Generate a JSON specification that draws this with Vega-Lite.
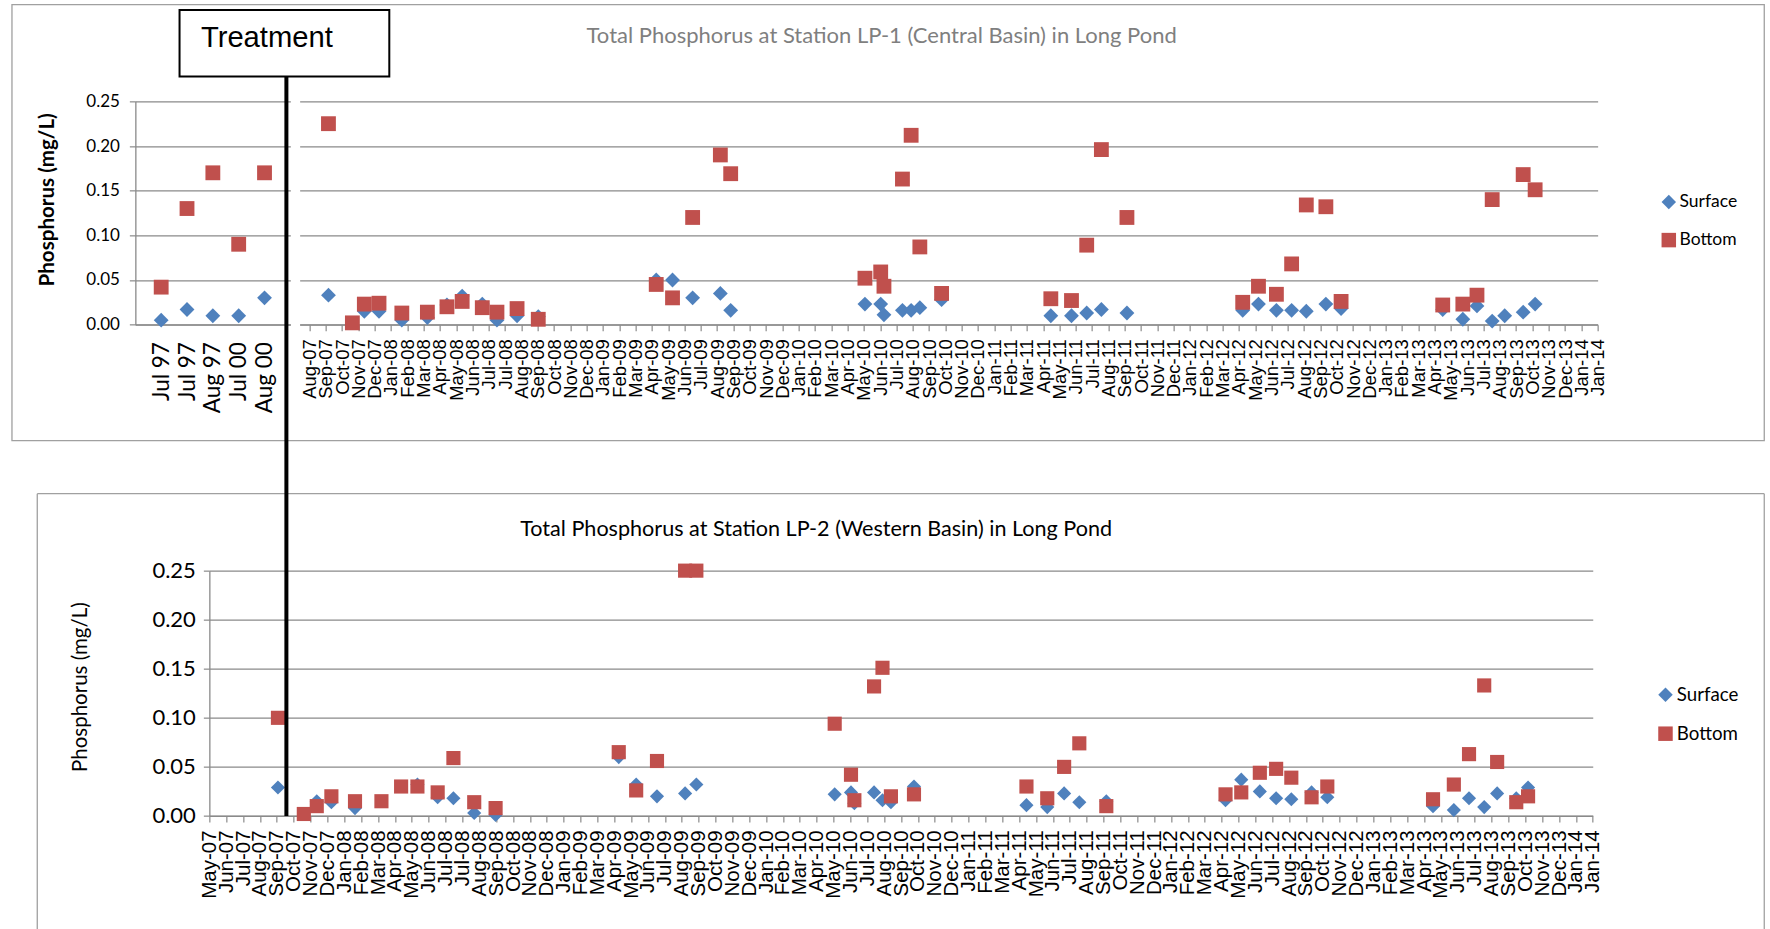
{
  "$schema": "https://vega.github.io/schema/vega-lite/v6.json",
  "background": "white",
  "padding": {"left": 10.35, "top": 3.35, "right": 0, "bottom": 0},
  "bounds": "flush",
  "spacing": 469.3,
  "config": {
    "view": {"stroke": null},
    "font": "Lato",
    "axis": {"gridColor": "#8a8a8a", "gridWidth": 1.3, "domainColor": "#8a8a8a", "domainWidth": 1.3, "tickColor": "#8a8a8a", "tickWidth": 1.2, "labelColor": "#000000", "titleColor": "#000000", "labelFlush": false},
    "legend": {"labelFont": "Lato", "labelColor": "#000000", "symbolSize": 210, "symbolStrokeWidth": 0, "rowPadding": 19, "labelOffset": 2, "padding": 0}
  },
  "datasets": {
    "lp1_hist": [
      {"sample": "Jul 97 (1)", "depth": "Surface", "tp": 0.005},
      {"sample": "Jul 97 (2)", "depth": "Surface", "tp": 0.017},
      {"sample": "Aug 97", "depth": "Surface", "tp": 0.010},
      {"sample": "Jul 00", "depth": "Surface", "tp": 0.010},
      {"sample": "Aug 00", "depth": "Surface", "tp": 0.030},
      {"sample": "Jul 97 (1)", "depth": "Bottom", "tp": 0.042},
      {"sample": "Jul 97 (2)", "depth": "Bottom", "tp": 0.130},
      {"sample": "Aug 97", "depth": "Bottom", "tp": 0.170},
      {"sample": "Jul 00", "depth": "Bottom", "tp": 0.090},
      {"sample": "Aug 00", "depth": "Bottom", "tp": 0.170}
    ],
    "lp1": [
      {"date": "2007-09-10", "depth": "Surface", "tp": 0.033},
      {"date": "2007-11-15", "depth": "Surface", "tp": 0.015},
      {"date": "2007-12-12", "depth": "Surface", "tp": 0.015},
      {"date": "2008-01-23", "depth": "Surface", "tp": 0.005},
      {"date": "2008-03-10", "depth": "Surface", "tp": 0.008},
      {"date": "2008-04-15", "depth": "Surface", "tp": 0.022},
      {"date": "2008-05-13", "depth": "Surface", "tp": 0.032},
      {"date": "2008-06-19", "depth": "Surface", "tp": 0.023},
      {"date": "2008-07-16", "depth": "Surface", "tp": 0.005},
      {"date": "2008-08-22", "depth": "Surface", "tp": 0.010},
      {"date": "2008-09-30", "depth": "Surface", "tp": 0.009},
      {"date": "2009-05-05", "depth": "Surface", "tp": 0.050},
      {"date": "2009-06-04", "depth": "Surface", "tp": 0.050},
      {"date": "2009-07-11", "depth": "Surface", "tp": 0.030},
      {"date": "2009-08-31", "depth": "Surface", "tp": 0.035},
      {"date": "2009-09-19", "depth": "Surface", "tp": 0.016},
      {"date": "2010-05-24", "depth": "Surface", "tp": 0.023},
      {"date": "2010-06-22", "depth": "Surface", "tp": 0.023},
      {"date": "2010-06-28", "depth": "Surface", "tp": 0.011},
      {"date": "2010-08-01", "depth": "Surface", "tp": 0.016},
      {"date": "2010-08-17", "depth": "Surface", "tp": 0.016},
      {"date": "2010-09-02", "depth": "Surface", "tp": 0.019},
      {"date": "2010-10-12", "depth": "Surface", "tp": 0.028},
      {"date": "2011-05-01", "depth": "Surface", "tp": 0.010},
      {"date": "2011-06-08", "depth": "Surface", "tp": 0.010},
      {"date": "2011-07-06", "depth": "Surface", "tp": 0.013},
      {"date": "2011-08-02", "depth": "Surface", "tp": 0.017},
      {"date": "2011-09-18", "depth": "Surface", "tp": 0.013},
      {"date": "2012-04-18", "depth": "Surface", "tp": 0.016},
      {"date": "2012-05-17", "depth": "Surface", "tp": 0.023},
      {"date": "2012-06-19", "depth": "Surface", "tp": 0.016},
      {"date": "2012-07-17", "depth": "Surface", "tp": 0.016},
      {"date": "2012-08-13", "depth": "Surface", "tp": 0.015},
      {"date": "2012-09-18", "depth": "Surface", "tp": 0.023},
      {"date": "2012-10-16", "depth": "Surface", "tp": 0.018},
      {"date": "2013-04-21", "depth": "Surface", "tp": 0.017},
      {"date": "2013-05-28", "depth": "Surface", "tp": 0.006},
      {"date": "2013-06-23", "depth": "Surface", "tp": 0.021},
      {"date": "2013-07-21", "depth": "Surface", "tp": 0.004},
      {"date": "2013-08-13", "depth": "Surface", "tp": 0.010},
      {"date": "2013-09-16", "depth": "Surface", "tp": 0.014},
      {"date": "2013-10-08", "depth": "Surface", "tp": 0.023},
      {"date": "2007-09-10", "depth": "Bottom", "tp": 0.225},
      {"date": "2007-10-24", "depth": "Bottom", "tp": 0.002},
      {"date": "2007-11-15", "depth": "Bottom", "tp": 0.023},
      {"date": "2007-12-12", "depth": "Bottom", "tp": 0.024},
      {"date": "2008-01-23", "depth": "Bottom", "tp": 0.013},
      {"date": "2008-03-10", "depth": "Bottom", "tp": 0.014},
      {"date": "2008-04-15", "depth": "Bottom", "tp": 0.020},
      {"date": "2008-05-13", "depth": "Bottom", "tp": 0.026},
      {"date": "2008-06-19", "depth": "Bottom", "tp": 0.019},
      {"date": "2008-07-16", "depth": "Bottom", "tp": 0.014},
      {"date": "2008-08-22", "depth": "Bottom", "tp": 0.018},
      {"date": "2008-09-30", "depth": "Bottom", "tp": 0.006},
      {"date": "2009-05-05", "depth": "Bottom", "tp": 0.045},
      {"date": "2009-06-04", "depth": "Bottom", "tp": 0.030},
      {"date": "2009-07-11", "depth": "Bottom", "tp": 0.120},
      {"date": "2009-08-31", "depth": "Bottom", "tp": 0.190},
      {"date": "2009-09-19", "depth": "Bottom", "tp": 0.169},
      {"date": "2010-05-24", "depth": "Bottom", "tp": 0.052},
      {"date": "2010-06-22", "depth": "Bottom", "tp": 0.059},
      {"date": "2010-06-28", "depth": "Bottom", "tp": 0.043},
      {"date": "2010-08-01", "depth": "Bottom", "tp": 0.163},
      {"date": "2010-08-17", "depth": "Bottom", "tp": 0.212},
      {"date": "2010-09-02", "depth": "Bottom", "tp": 0.087},
      {"date": "2010-10-12", "depth": "Bottom", "tp": 0.035},
      {"date": "2011-05-01", "depth": "Bottom", "tp": 0.029},
      {"date": "2011-06-08", "depth": "Bottom", "tp": 0.027},
      {"date": "2011-07-06", "depth": "Bottom", "tp": 0.089},
      {"date": "2011-08-02", "depth": "Bottom", "tp": 0.196},
      {"date": "2011-09-18", "depth": "Bottom", "tp": 0.120},
      {"date": "2012-04-18", "depth": "Bottom", "tp": 0.025},
      {"date": "2012-05-17", "depth": "Bottom", "tp": 0.043},
      {"date": "2012-06-19", "depth": "Bottom", "tp": 0.034},
      {"date": "2012-07-17", "depth": "Bottom", "tp": 0.068},
      {"date": "2012-08-13", "depth": "Bottom", "tp": 0.134},
      {"date": "2012-09-18", "depth": "Bottom", "tp": 0.132},
      {"date": "2012-10-16", "depth": "Bottom", "tp": 0.026},
      {"date": "2013-04-21", "depth": "Bottom", "tp": 0.022},
      {"date": "2013-05-28", "depth": "Bottom", "tp": 0.023},
      {"date": "2013-06-23", "depth": "Bottom", "tp": 0.033},
      {"date": "2013-07-21", "depth": "Bottom", "tp": 0.140},
      {"date": "2013-09-16", "depth": "Bottom", "tp": 0.168},
      {"date": "2013-10-08", "depth": "Bottom", "tp": 0.151}
    ],
    "lp2": [
      {"date": "2007-09-07", "depth": "Surface", "tp": 0.029},
      {"date": "2007-11-15", "depth": "Surface", "tp": 0.015},
      {"date": "2007-12-11", "depth": "Surface", "tp": 0.014},
      {"date": "2008-01-22", "depth": "Surface", "tp": 0.008},
      {"date": "2008-05-12", "depth": "Surface", "tp": 0.032},
      {"date": "2008-06-17", "depth": "Surface", "tp": 0.019},
      {"date": "2008-07-15", "depth": "Surface", "tp": 0.018},
      {"date": "2008-08-21", "depth": "Surface", "tp": 0.003},
      {"date": "2008-09-28", "depth": "Surface", "tp": 0.001},
      {"date": "2009-05-05", "depth": "Surface", "tp": 0.060},
      {"date": "2009-06-05", "depth": "Surface", "tp": 0.032},
      {"date": "2009-07-12", "depth": "Surface", "tp": 0.020},
      {"date": "2009-08-31", "depth": "Surface", "tp": 0.023},
      {"date": "2009-09-20", "depth": "Surface", "tp": 0.032},
      {"date": "2010-05-24", "depth": "Surface", "tp": 0.022},
      {"date": "2010-06-22", "depth": "Surface", "tp": 0.024},
      {"date": "2010-06-28", "depth": "Surface", "tp": 0.013},
      {"date": "2010-08-02", "depth": "Surface", "tp": 0.024},
      {"date": "2010-08-17", "depth": "Surface", "tp": 0.016},
      {"date": "2010-09-01", "depth": "Surface", "tp": 0.014},
      {"date": "2010-10-12", "depth": "Surface", "tp": 0.030},
      {"date": "2011-04-30", "depth": "Surface", "tp": 0.011},
      {"date": "2011-06-06", "depth": "Surface", "tp": 0.009},
      {"date": "2011-07-06", "depth": "Surface", "tp": 0.023},
      {"date": "2011-08-02", "depth": "Surface", "tp": 0.014},
      {"date": "2011-09-19", "depth": "Surface", "tp": 0.015},
      {"date": "2012-04-18", "depth": "Surface", "tp": 0.016},
      {"date": "2012-05-16", "depth": "Surface", "tp": 0.037},
      {"date": "2012-06-18", "depth": "Surface", "tp": 0.025},
      {"date": "2012-07-17", "depth": "Surface", "tp": 0.018},
      {"date": "2012-08-13", "depth": "Surface", "tp": 0.017},
      {"date": "2012-09-18", "depth": "Surface", "tp": 0.024},
      {"date": "2012-10-16", "depth": "Surface", "tp": 0.019},
      {"date": "2013-04-22", "depth": "Surface", "tp": 0.010},
      {"date": "2013-05-29", "depth": "Surface", "tp": 0.006},
      {"date": "2013-06-25", "depth": "Surface", "tp": 0.018},
      {"date": "2013-07-22", "depth": "Surface", "tp": 0.009},
      {"date": "2013-08-14", "depth": "Surface", "tp": 0.023},
      {"date": "2013-09-17", "depth": "Surface", "tp": 0.018},
      {"date": "2013-10-08", "depth": "Surface", "tp": 0.029},
      {"date": "2007-09-07", "depth": "Bottom", "tp": 0.100},
      {"date": "2007-10-23", "depth": "Bottom", "tp": 0.002},
      {"date": "2007-11-15", "depth": "Bottom", "tp": 0.010},
      {"date": "2007-12-11", "depth": "Bottom", "tp": 0.020},
      {"date": "2008-01-22", "depth": "Bottom", "tp": 0.015},
      {"date": "2008-03-09", "depth": "Bottom", "tp": 0.015},
      {"date": "2008-04-13", "depth": "Bottom", "tp": 0.030},
      {"date": "2008-05-12", "depth": "Bottom", "tp": 0.030},
      {"date": "2008-06-17", "depth": "Bottom", "tp": 0.024},
      {"date": "2008-07-15", "depth": "Bottom", "tp": 0.059},
      {"date": "2008-08-21", "depth": "Bottom", "tp": 0.014},
      {"date": "2008-09-28", "depth": "Bottom", "tp": 0.008},
      {"date": "2009-05-05", "depth": "Bottom", "tp": 0.065},
      {"date": "2009-06-05", "depth": "Bottom", "tp": 0.026},
      {"date": "2009-07-12", "depth": "Bottom", "tp": 0.056},
      {"date": "2009-08-31", "depth": "Bottom", "tp": 0.250},
      {"date": "2009-09-20", "depth": "Bottom", "tp": 0.250},
      {"date": "2010-05-24", "depth": "Bottom", "tp": 0.094},
      {"date": "2010-06-22", "depth": "Bottom", "tp": 0.042},
      {"date": "2010-06-28", "depth": "Bottom", "tp": 0.016},
      {"date": "2010-08-02", "depth": "Bottom", "tp": 0.132},
      {"date": "2010-08-17", "depth": "Bottom", "tp": 0.151},
      {"date": "2010-09-01", "depth": "Bottom", "tp": 0.020},
      {"date": "2010-10-12", "depth": "Bottom", "tp": 0.022},
      {"date": "2011-04-30", "depth": "Bottom", "tp": 0.030},
      {"date": "2011-06-06", "depth": "Bottom", "tp": 0.018},
      {"date": "2011-07-06", "depth": "Bottom", "tp": 0.050},
      {"date": "2011-08-02", "depth": "Bottom", "tp": 0.074},
      {"date": "2011-09-19", "depth": "Bottom", "tp": 0.010},
      {"date": "2012-04-18", "depth": "Bottom", "tp": 0.022},
      {"date": "2012-05-16", "depth": "Bottom", "tp": 0.024},
      {"date": "2012-06-18", "depth": "Bottom", "tp": 0.044},
      {"date": "2012-07-17", "depth": "Bottom", "tp": 0.048},
      {"date": "2012-08-13", "depth": "Bottom", "tp": 0.039},
      {"date": "2012-09-18", "depth": "Bottom", "tp": 0.019},
      {"date": "2012-10-16", "depth": "Bottom", "tp": 0.030},
      {"date": "2013-04-22", "depth": "Bottom", "tp": 0.017},
      {"date": "2013-05-29", "depth": "Bottom", "tp": 0.032},
      {"date": "2013-06-25", "depth": "Bottom", "tp": 0.063},
      {"date": "2013-07-22", "depth": "Bottom", "tp": 0.133},
      {"date": "2013-08-14", "depth": "Bottom", "tp": 0.055},
      {"date": "2013-09-17", "depth": "Bottom", "tp": 0.014},
      {"date": "2013-10-08", "depth": "Bottom", "tp": 0.020}
    ]
  },
  "resolve": {"scale": {"color": "independent", "shape": "independent"}, "legend": {"color": "independent", "shape": "independent"}},
  "vconcat": [
    {
      "bounds": "flush",
      "spacing": 9.3,
      "resolve": {"scale": {"color": "independent", "shape": "independent"}, "legend": {"color": "independent", "shape": "independent"}},
      "hconcat": [
        {
          "width": 155,
          "height": 223.3,
          "data": {"name": "lp1_hist"},
          "mark": {"type": "point", "filled": true, "opacity": 1, "size": 220, "strokeWidth": 0},
          "encoding": {
            "x": {"field": "sample", "type": "ordinal", "sort": null, "scale": {"type": "point", "padding": 1.1},
              "axis": {"title": null, "labelAngle": 270, "labelExpr": "split(datum.value, ' (')[0]", "ticks": false, "domain": true, "grid": false, "labelPadding": 17, "labelFont": "Lato", "labelFontSize": 22.5}},
            "y": {"field": "tp", "type": "quantitative", "scale": {"domain": [0, 0.25]},
              "axis": {"values": [0, 0.05, 0.1, 0.15, 0.2, 0.25], "format": ".2f", "title": "Phosphorus (mg/L)", "titleFont": "Lato", "titleFontWeight": "bold", "titleFontSize": 20.6, "titleAngle": 270, "titleX": -87.6, "titleY": 98, "titleAlign": "center", "titleBaseline": "middle", "tickSize": 6, "labelPadding": 10, "labelFont": "Lato", "labelFontSize": 17, "grid": true}},
            "color": {"field": "depth", "type": "nominal", "scale": {"domain": ["Surface", "Bottom"], "range": ["#4F81BD", "#C0504D"]}, "legend": null},
            "shape": {"field": "depth", "type": "nominal", "scale": {"domain": ["Surface", "Bottom"], "range": ["diamond", "square"]}, "legend": null}
          }
        },
        {
          "width": 1298,
          "height": 223.3,
          "title": {"text": "Total Phosphorus at Station LP-1 (Central Basin) in Long Pond", "frame": "group", "font": "Lato", "fontSize": 22, "fontWeight": "normal", "color": "#7f7f7f", "anchor": "middle", "dx": -67, "baseline": "alphabetic", "offset": 36.5},
          "data": {"name": "lp1"},
          "mark": {"type": "point", "filled": true, "opacity": 1, "size": 220, "strokeWidth": 0},
          "encoding": {
            "x": {"field": "date", "type": "temporal",
              "scale": {"type": "utc", "domain": [{"year": 2007, "month": 7, "date": 19, "utc": true}, {"year": 2014, "month": 1, "date": 31, "utc": true}]},
              "axis": {"title": null, "format": "%b-%y", "labelAngle": 270, "labelOverlap": false, "labelFlush": false, "labelFont": "Liberation Sans", "labelFontSize": 18.5, "tickSize": 6, "labelPadding": 8, "grid": false, "domain": true,
                "values": [
                  {"year": 2007, "month": 8, "date": 6, "utc": true}, {"year": 2007, "month": 9, "date": 5, "utc": true}, {"year": 2007, "month": 10, "date": 5, "utc": true}, {"year": 2007, "month": 11, "date": 4, "utc": true}, {"year": 2007, "month": 12, "date": 4, "utc": true},
                  {"year": 2008, "month": 1, "date": 3, "utc": true}, {"year": 2008, "month": 2, "date": 2, "utc": true}, {"year": 2008, "month": 3, "date": 3, "utc": true}, {"year": 2008, "month": 4, "date": 2, "utc": true}, {"year": 2008, "month": 5, "date": 2, "utc": true}, {"year": 2008, "month": 6, "date": 1, "utc": true}, {"year": 2008, "month": 7, "date": 1, "utc": true}, {"year": 2008, "month": 7, "date": 31, "utc": true}, {"year": 2008, "month": 8, "date": 30, "utc": true}, {"year": 2008, "month": 9, "date": 29, "utc": true}, {"year": 2008, "month": 10, "date": 29, "utc": true}, {"year": 2008, "month": 11, "date": 28, "utc": true}, {"year": 2008, "month": 12, "date": 28, "utc": true},
                  {"year": 2009, "month": 1, "date": 27, "utc": true}, {"year": 2009, "month": 2, "date": 26, "utc": true}, {"year": 2009, "month": 3, "date": 28, "utc": true}, {"year": 2009, "month": 4, "date": 27, "utc": true}, {"year": 2009, "month": 5, "date": 27, "utc": true}, {"year": 2009, "month": 6, "date": 26, "utc": true}, {"year": 2009, "month": 7, "date": 26, "utc": true}, {"year": 2009, "month": 8, "date": 25, "utc": true}, {"year": 2009, "month": 9, "date": 24, "utc": true}, {"year": 2009, "month": 10, "date": 24, "utc": true}, {"year": 2009, "month": 11, "date": 23, "utc": true}, {"year": 2009, "month": 12, "date": 23, "utc": true},
                  {"year": 2010, "month": 1, "date": 22, "utc": true}, {"year": 2010, "month": 2, "date": 21, "utc": true}, {"year": 2010, "month": 3, "date": 23, "utc": true}, {"year": 2010, "month": 4, "date": 22, "utc": true}, {"year": 2010, "month": 5, "date": 22, "utc": true}, {"year": 2010, "month": 6, "date": 21, "utc": true}, {"year": 2010, "month": 7, "date": 21, "utc": true}, {"year": 2010, "month": 8, "date": 20, "utc": true}, {"year": 2010, "month": 9, "date": 19, "utc": true}, {"year": 2010, "month": 10, "date": 19, "utc": true}, {"year": 2010, "month": 11, "date": 18, "utc": true}, {"year": 2010, "month": 12, "date": 18, "utc": true},
                  {"year": 2011, "month": 1, "date": 17, "utc": true}, {"year": 2011, "month": 2, "date": 16, "utc": true}, {"year": 2011, "month": 3, "date": 18, "utc": true}, {"year": 2011, "month": 4, "date": 17, "utc": true}, {"year": 2011, "month": 5, "date": 17, "utc": true}, {"year": 2011, "month": 6, "date": 16, "utc": true}, {"year": 2011, "month": 7, "date": 16, "utc": true}, {"year": 2011, "month": 8, "date": 15, "utc": true}, {"year": 2011, "month": 9, "date": 14, "utc": true}, {"year": 2011, "month": 10, "date": 14, "utc": true}, {"year": 2011, "month": 11, "date": 13, "utc": true}, {"year": 2011, "month": 12, "date": 13, "utc": true},
                  {"year": 2012, "month": 1, "date": 12, "utc": true}, {"year": 2012, "month": 2, "date": 11, "utc": true}, {"year": 2012, "month": 3, "date": 12, "utc": true}, {"year": 2012, "month": 4, "date": 11, "utc": true}, {"year": 2012, "month": 5, "date": 11, "utc": true}, {"year": 2012, "month": 6, "date": 10, "utc": true}, {"year": 2012, "month": 7, "date": 10, "utc": true}, {"year": 2012, "month": 8, "date": 9, "utc": true}, {"year": 2012, "month": 9, "date": 8, "utc": true}, {"year": 2012, "month": 10, "date": 8, "utc": true}, {"year": 2012, "month": 11, "date": 7, "utc": true}, {"year": 2012, "month": 12, "date": 7, "utc": true},
                  {"year": 2013, "month": 1, "date": 6, "utc": true}, {"year": 2013, "month": 2, "date": 5, "utc": true}, {"year": 2013, "month": 3, "date": 7, "utc": true}, {"year": 2013, "month": 4, "date": 6, "utc": true}, {"year": 2013, "month": 5, "date": 6, "utc": true}, {"year": 2013, "month": 6, "date": 5, "utc": true}, {"year": 2013, "month": 7, "date": 5, "utc": true}, {"year": 2013, "month": 8, "date": 4, "utc": true}, {"year": 2013, "month": 9, "date": 3, "utc": true}, {"year": 2013, "month": 10, "date": 3, "utc": true}, {"year": 2013, "month": 11, "date": 2, "utc": true}, {"year": 2013, "month": 12, "date": 2, "utc": true},
                  {"year": 2014, "month": 1, "date": 1, "utc": true}, {"year": 2014, "month": 1, "date": 31, "utc": true}
                ]}},
            "y": {"field": "tp", "type": "quantitative", "scale": {"domain": [0, 0.25]},
              "axis": {"values": [0, 0.05, 0.1, 0.15, 0.2, 0.25], "labels": false, "ticks": false, "domain": false, "title": null, "grid": true}},
            "color": {"field": "depth", "type": "nominal", "scale": {"domain": ["Surface", "Bottom"], "range": ["#4F81BD", "#C0504D"]}, "legend": {"title": null, "orient": "none", "legendX": 1360.4, "legendY": 92, "labelFontSize": 17.5}},
            "shape": {"field": "depth", "type": "nominal", "scale": {"domain": ["Surface", "Bottom"], "range": ["diamond", "square"]}, "legend": {"title": null, "orient": "none", "legendX": 1360.4, "legendY": 92, "labelFontSize": 17.5}}
          }
        }
      ]
    },
    {
      "bounds": "flush",
      "spacing": 0,
      "resolve": {"scale": {"color": "independent", "shape": "independent"}, "legend": {"color": "independent", "shape": "independent"}},
      "hconcat": [
        {
          "width": 73.3,
          "height": 245.3,
          "data": {"values": []},
          "mark": {"type": "point"}
        },
        {
          "width": 1383.4,
          "height": 245.3,
          "resolve": {"scale": {"x": "independent", "y": "independent"}, "axis": {"x": "independent", "y": "independent"}},
          "layer": [
            {
              "data": {"name": "lp2"},
              "mark": {"type": "point", "filled": true, "opacity": 1, "size": 200, "strokeWidth": 0},
              "encoding": {
                "x": {"field": "date", "type": "temporal",
                  "scale": {"type": "utc", "domain": [{"year": 2007, "month": 5, "date": 8, "utc": true}, {"year": 2014, "month": 1, "date": 31, "utc": true}]},
                  "axis": {"title": null, "orient": "bottom", "format": "%b-%y", "labelAngle": 270, "labelOverlap": false, "labelFlush": false, "labelFont": "Liberation Sans", "labelFontSize": 20.5, "tickSize": 6, "labelPadding": 8, "grid": false, "domain": true,
                    "values": [
                      {"year": 2007, "month": 5, "date": 8, "utc": true}, {"year": 2007, "month": 6, "date": 7, "utc": true}, {"year": 2007, "month": 7, "date": 7, "utc": true},
                      {"year": 2007, "month": 8, "date": 6, "utc": true}, {"year": 2007, "month": 9, "date": 5, "utc": true}, {"year": 2007, "month": 10, "date": 5, "utc": true}, {"year": 2007, "month": 11, "date": 4, "utc": true}, {"year": 2007, "month": 12, "date": 4, "utc": true},
                      {"year": 2008, "month": 1, "date": 3, "utc": true}, {"year": 2008, "month": 2, "date": 2, "utc": true}, {"year": 2008, "month": 3, "date": 3, "utc": true}, {"year": 2008, "month": 4, "date": 2, "utc": true}, {"year": 2008, "month": 5, "date": 2, "utc": true}, {"year": 2008, "month": 6, "date": 1, "utc": true}, {"year": 2008, "month": 7, "date": 1, "utc": true}, {"year": 2008, "month": 7, "date": 31, "utc": true}, {"year": 2008, "month": 8, "date": 30, "utc": true}, {"year": 2008, "month": 9, "date": 29, "utc": true}, {"year": 2008, "month": 10, "date": 29, "utc": true}, {"year": 2008, "month": 11, "date": 28, "utc": true}, {"year": 2008, "month": 12, "date": 28, "utc": true},
                      {"year": 2009, "month": 1, "date": 27, "utc": true}, {"year": 2009, "month": 2, "date": 26, "utc": true}, {"year": 2009, "month": 3, "date": 28, "utc": true}, {"year": 2009, "month": 4, "date": 27, "utc": true}, {"year": 2009, "month": 5, "date": 27, "utc": true}, {"year": 2009, "month": 6, "date": 26, "utc": true}, {"year": 2009, "month": 7, "date": 26, "utc": true}, {"year": 2009, "month": 8, "date": 25, "utc": true}, {"year": 2009, "month": 9, "date": 24, "utc": true}, {"year": 2009, "month": 10, "date": 24, "utc": true}, {"year": 2009, "month": 11, "date": 23, "utc": true}, {"year": 2009, "month": 12, "date": 23, "utc": true},
                      {"year": 2010, "month": 1, "date": 22, "utc": true}, {"year": 2010, "month": 2, "date": 21, "utc": true}, {"year": 2010, "month": 3, "date": 23, "utc": true}, {"year": 2010, "month": 4, "date": 22, "utc": true}, {"year": 2010, "month": 5, "date": 22, "utc": true}, {"year": 2010, "month": 6, "date": 21, "utc": true}, {"year": 2010, "month": 7, "date": 21, "utc": true}, {"year": 2010, "month": 8, "date": 20, "utc": true}, {"year": 2010, "month": 9, "date": 19, "utc": true}, {"year": 2010, "month": 10, "date": 19, "utc": true}, {"year": 2010, "month": 11, "date": 18, "utc": true}, {"year": 2010, "month": 12, "date": 18, "utc": true},
                      {"year": 2011, "month": 1, "date": 17, "utc": true}, {"year": 2011, "month": 2, "date": 16, "utc": true}, {"year": 2011, "month": 3, "date": 18, "utc": true}, {"year": 2011, "month": 4, "date": 17, "utc": true}, {"year": 2011, "month": 5, "date": 17, "utc": true}, {"year": 2011, "month": 6, "date": 16, "utc": true}, {"year": 2011, "month": 7, "date": 16, "utc": true}, {"year": 2011, "month": 8, "date": 15, "utc": true}, {"year": 2011, "month": 9, "date": 14, "utc": true}, {"year": 2011, "month": 10, "date": 14, "utc": true}, {"year": 2011, "month": 11, "date": 13, "utc": true}, {"year": 2011, "month": 12, "date": 13, "utc": true},
                      {"year": 2012, "month": 1, "date": 12, "utc": true}, {"year": 2012, "month": 2, "date": 11, "utc": true}, {"year": 2012, "month": 3, "date": 12, "utc": true}, {"year": 2012, "month": 4, "date": 11, "utc": true}, {"year": 2012, "month": 5, "date": 11, "utc": true}, {"year": 2012, "month": 6, "date": 10, "utc": true}, {"year": 2012, "month": 7, "date": 10, "utc": true}, {"year": 2012, "month": 8, "date": 9, "utc": true}, {"year": 2012, "month": 9, "date": 8, "utc": true}, {"year": 2012, "month": 10, "date": 8, "utc": true}, {"year": 2012, "month": 11, "date": 7, "utc": true}, {"year": 2012, "month": 12, "date": 7, "utc": true},
                      {"year": 2013, "month": 1, "date": 6, "utc": true}, {"year": 2013, "month": 2, "date": 5, "utc": true}, {"year": 2013, "month": 3, "date": 7, "utc": true}, {"year": 2013, "month": 4, "date": 6, "utc": true}, {"year": 2013, "month": 5, "date": 6, "utc": true}, {"year": 2013, "month": 6, "date": 5, "utc": true}, {"year": 2013, "month": 7, "date": 5, "utc": true}, {"year": 2013, "month": 8, "date": 4, "utc": true}, {"year": 2013, "month": 9, "date": 3, "utc": true}, {"year": 2013, "month": 10, "date": 3, "utc": true}, {"year": 2013, "month": 11, "date": 2, "utc": true}, {"year": 2013, "month": 12, "date": 2, "utc": true},
                      {"year": 2014, "month": 1, "date": 1, "utc": true}, {"year": 2014, "month": 1, "date": 31, "utc": true}
                    ]}},
                "y": {"field": "tp", "type": "quantitative", "scale": {"domain": [0, 0.25]},
                  "axis": {"orient": "left", "values": [0, 0.05, 0.1, 0.15, 0.2, 0.25], "format": ".2f", "title": "Phosphorus (mg/L)", "titleFont": "Lato", "titleFontWeight": "normal", "titleFontSize": 20.5, "titleAngle": 270, "titleX": -129.3, "titleY": 116, "titleAlign": "center", "titleBaseline": "middle", "tickSize": 6, "labelPadding": 8, "labelFont": "Lato", "labelFontSize": 22, "grid": true}},
                "color": {"field": "depth", "type": "nominal", "scale": {"domain": ["Surface", "Bottom"], "range": ["#4F81BD", "#C0504D"]}, "legend": {"title": null, "orient": "none", "legendX": 1446.8, "legendY": 114.7, "labelFontSize": 18.7}},
                "shape": {"field": "depth", "type": "nominal", "scale": {"domain": ["Surface", "Bottom"], "range": ["diamond", "square"]}, "legend": {"title": null, "orient": "none", "legendX": 1446.8, "legendY": 114.7, "labelFontSize": 18.7}}
              }
            },
            {
              "data": {"values": [{}]},
              "mark": {"type": "rect", "fill": null, "fillOpacity": 0, "stroke": "#a0a0a0", "strokeWidth": 1.3, "clip": false},
              "encoding": {
                "x": {"datum": {"year": 2006, "month": 5, "date": 22, "utc": true}, "type": "temporal", "axis": null, "scale": {"type": "utc", "domain": [{"year": 2007, "month": 5, "date": 8, "utc": true}, {"year": 2014, "month": 1, "date": 31, "utc": true}]}},
                "x2": {"datum": {"year": 2014, "month": 12, "date": 2, "utc": true}},
                "y": {"datum": 0.82685, "type": "quantitative", "axis": null, "scale": {"domain": [0, 0.25]}},
                "y2": {"datum": 0.38249}
              }
            },
            {
              "data": {"values": [{}]},
              "mark": {"type": "rule", "stroke": "#a0a0a0", "strokeWidth": 1.3, "clip": false},
              "encoding": {
                "x": {"datum": {"year": 2006, "month": 7, "date": 6, "utc": true}, "type": "temporal", "axis": null, "scale": {"type": "utc", "domain": [{"year": 2007, "month": 5, "date": 8, "utc": true}, {"year": 2014, "month": 1, "date": 31, "utc": true}]}},
                "y": {"datum": 0.32848, "type": "quantitative", "axis": null, "scale": {"domain": [0, 0.25]}},
                "y2": {"datum": -0.12}
              }
            },
            {
              "data": {"values": [{}]},
              "mark": {"type": "rule", "stroke": "#a0a0a0", "strokeWidth": 1.3, "clip": false},
              "encoding": {
                "x": {"datum": {"year": 2014, "month": 12, "date": 2, "utc": true}, "type": "temporal", "axis": null, "scale": {"type": "utc", "domain": [{"year": 2007, "month": 5, "date": 8, "utc": true}, {"year": 2014, "month": 1, "date": 31, "utc": true}]}},
                "y": {"datum": 0.32848, "type": "quantitative", "axis": null, "scale": {"domain": [0, 0.25]}},
                "y2": {"datum": -0.12}
              }
            },
            {
              "data": {"values": [{}]},
              "mark": {"type": "rule", "stroke": "#a0a0a0", "strokeWidth": 1.3, "clip": false},
              "encoding": {
                "x": {"datum": {"year": 2006, "month": 7, "date": 6, "utc": true}, "type": "temporal", "axis": null, "scale": {"type": "utc", "domain": [{"year": 2007, "month": 5, "date": 8, "utc": true}, {"year": 2014, "month": 1, "date": 31, "utc": true}]}},
                "x2": {"datum": {"year": 2014, "month": 12, "date": 2, "utc": true}},
                "y": {"datum": 0.32848, "type": "quantitative", "axis": null, "scale": {"domain": [0, 0.25]}}
              }
            },
            {
              "data": {"values": [{}]},
              "mark": {"type": "rule", "stroke": "#000000", "strokeWidth": 4, "clip": false},
              "encoding": {
                "x": {"datum": {"year": 2007, "month": 9, "date": 22, "utc": true}, "type": "temporal", "axis": null, "scale": {"type": "utc", "domain": [{"year": 2007, "month": 5, "date": 8, "utc": true}, {"year": 2014, "month": 1, "date": 31, "utc": true}]}},
                "y": {"datum": 0, "type": "quantitative", "axis": null, "scale": {"domain": [0, 0.25]}},
                "y2": {"datum": 0.7535}
              }
            },
            {
              "data": {"values": [{}]},
              "mark": {"type": "rect", "fill": "#ffffff", "stroke": "#000000", "strokeWidth": 2, "clip": false},
              "encoding": {
                "x": {"datum": {"year": 2007, "month": 3, "date": 16, "utc": true}, "type": "temporal", "axis": null, "scale": {"type": "utc", "domain": [{"year": 2007, "month": 5, "date": 8, "utc": true}, {"year": 2014, "month": 1, "date": 31, "utc": true}]}},
                "x2": {"datum": {"year": 2008, "month": 3, "date": 23, "utc": true}},
                "y": {"datum": 0.8214, "type": "quantitative", "axis": null, "scale": {"domain": [0, 0.25]}},
                "y2": {"datum": 0.7535}
              }
            },
            {
              "data": {"values": [{}]},
              "mark": {"type": "text", "text": "Treatment", "font": "Liberation Sans", "fontSize": 29.2, "align": "left", "baseline": "alphabetic", "color": "#000000", "clip": false},
              "encoding": {
                "x": {"datum": {"year": 2007, "month": 4, "date": 23, "utc": true}, "type": "temporal", "axis": null, "scale": {"type": "utc", "domain": [{"year": 2007, "month": 5, "date": 8, "utc": true}, {"year": 2014, "month": 1, "date": 31, "utc": true}]}},
                "y": {"datum": 0.7833, "type": "quantitative", "axis": null, "scale": {"domain": [0, 0.25]}}
              }
            },
            {
              "data": {"values": [{}]},
              "mark": {"type": "text", "text": "Total Phosphorus at Station LP-2 (Western Basin) in Long Pond", "font": "Lato", "fontSize": 21.6, "align": "center", "baseline": "alphabetic", "color": "#000000", "clip": false},
              "encoding": {
                "x": {"datum": {"year": 2010, "month": 4, "date": 21, "utc": true}, "type": "temporal", "axis": null, "scale": {"type": "utc", "domain": [{"year": 2007, "month": 5, "date": 8, "utc": true}, {"year": 2014, "month": 1, "date": 31, "utc": true}]}},
                "y": {"datum": 0.28567, "type": "quantitative", "axis": null, "scale": {"domain": [0, 0.25]}}
              }
            }
          ]
        }
      ]
    }
  ]
}
